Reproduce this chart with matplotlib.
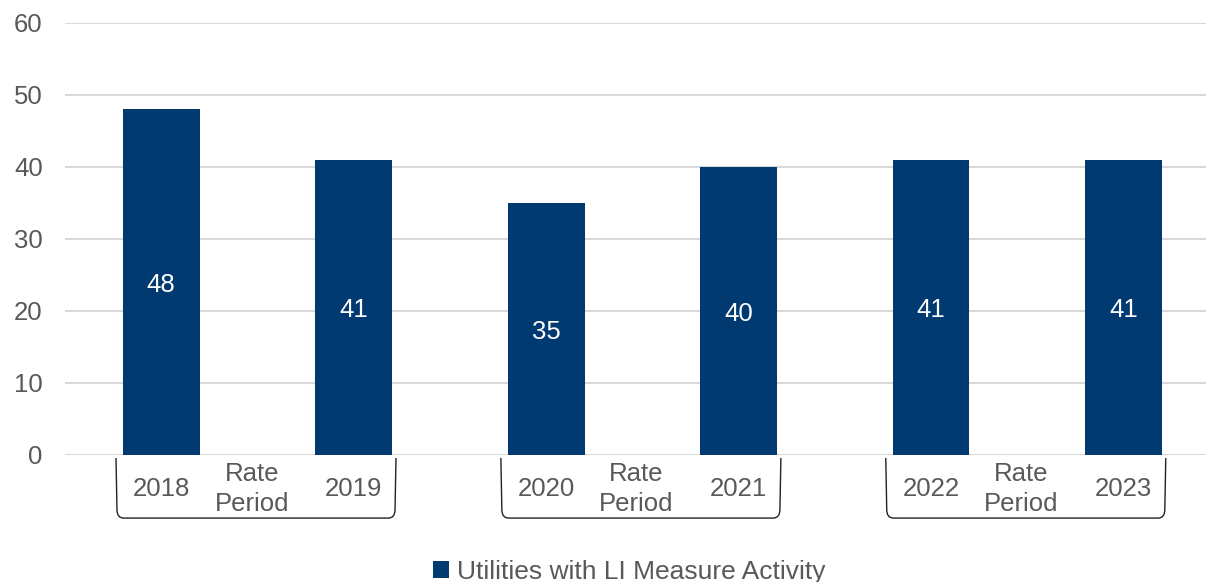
import matplotlib.pyplot as plt
from matplotlib.path import Path
from matplotlib.patches import PathPatch
import matplotlib.transforms as mtransforms

# chart data
years = ['2018', '2019', '2020', '2021', '2022', '2023']
utilities = [48, 41, 35, 40, 41, 41]
y_ticks = [0, 10, 20, 30, 40, 50, 60]
group_label = 'Rate\nPeriod'
series_name = 'Utilities with LI Measure Activity'

bar_color = '#003a70'
text_color = '#595959'
grid_color = '#d9d9d9'
fs = 18.5

plt.rcParams['font.family'] = ['Liberation Sans', 'DejaVu Sans']

fig = plt.figure(figsize=(12.06, 5.82), dpi=100)
ax = fig.add_axes([65 / 1206, (582 - 455) / 582, 1 - 65 / 1206, 432 / 582])

x = list(range(len(years)))
bars = ax.bar(x, utilities, width=0.40, color=bar_color, zorder=3, label=series_name)
for xi, v in zip(x, utilities):
    ax.annotate(str(v), (xi, v / 2), xytext=(0, -3), textcoords='offset pixels',
                ha='center', va='center', color='white', fontsize=fs, zorder=4)

ax.set_ylim(0, 60)
ax.set_xlim(-0.5, 5.429)
ax.set_yticks(y_ticks)
ax.yaxis.grid(True, color=grid_color, linewidth=1.5, zorder=0)
ax.tick_params(axis='y', length=0, pad=16, labelsize=fs, labelcolor=text_color)
ax.set_xticks([])
for s in ax.spines.values():
    s.set_visible(False)

# category labels and brackets under each pair
trans = mtransforms.blended_transform_factory(ax.transData, ax.transAxes)
for g in range(3):
    a, b = 2 * g, 2 * g + 1
    for xi in (a, b):
        ax.text(xi, -0.079, years[xi], transform=trans, ha='center', va='center',
                fontsize=fs, color=text_color, clip_on=False)
    ax.text(a + 0.47, -0.079, group_label, transform=trans, ha='center', va='center',
            fontsize=fs, color=text_color, linespacing=1.28, clip_on=False)
    x0, x1 = a - 0.235, b + 0.22
    yt, yb = -0.007, -0.146
    rx, ry = 0.04, 0.02
    verts = [(x0, yt), (x0 + 0.005, yb + ry), (x0 + 0.005, yb), (x0 + rx, yb),
             (x1 - rx, yb), (x1 - 0.005, yb), (x1 - 0.005, yb + ry), (x1, yt)]
    codes = [Path.MOVETO, Path.LINETO, Path.CURVE3, Path.CURVE3,
             Path.LINETO, Path.CURVE3, Path.CURVE3, Path.LINETO]
    ax.add_patch(PathPatch(Path(verts, codes), transform=trans, fill=False,
                           edgecolor='#222222', linewidth=1.0, clip_on=False))

fig.legend(handles=[bars], labels=[series_name], loc='center', bbox_to_anchor=(0.522, 0.017),
           frameon=False, fontsize=19, handlelength=0.6, handleheight=0.6, handletextpad=0.3,
           labelcolor=text_color)

fig.savefig('out.png', dpi=100)
